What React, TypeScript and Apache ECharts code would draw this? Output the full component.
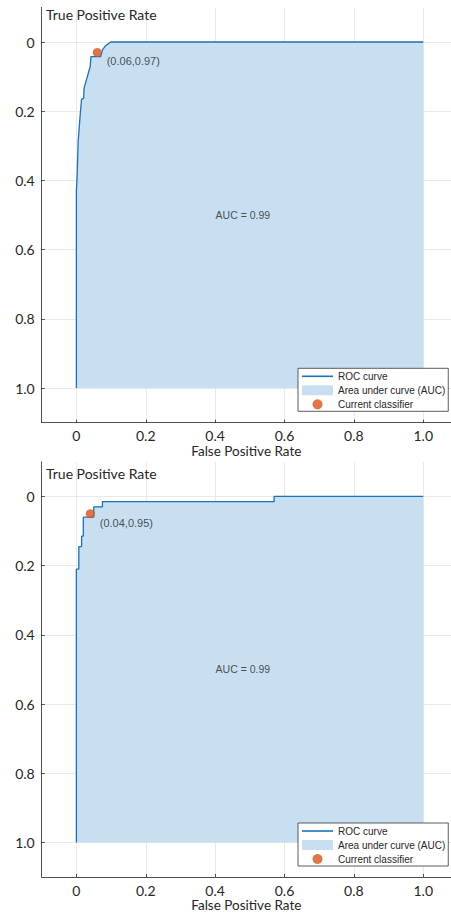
import React, { useEffect, useRef } from 'react';
import * as echarts from 'echarts';

// ROC curve points [FPR, TPR]
const rocTop: [number, number][] = [
  [0, 0], [0, 0.57], [0.002, 0.61], [0.005, 0.71], [0.011, 0.79], [0.015, 0.835],
  [0.021, 0.837], [0.022, 0.866], [0.04, 0.93], [0.042, 0.958], [0.07, 0.958],
  [0.075, 0.977], [0.085, 0.99], [0.099, 1], [1, 1],
];
const rocBottom: [number, number][] = [
  [0, 0], [0, 0.79], [0.007, 0.79], [0.007, 0.855], [0.015, 0.855], [0.015, 0.885],
  [0.02, 0.885], [0.02, 0.94], [0.05, 0.94], [0.05, 0.97], [0.075, 0.97],
  [0.075, 0.985], [0.57, 0.985], [0.57, 1], [1, 1],
];
const classifierTop: [number, number] = [0.06, 0.97];
const classifierBottom: [number, number] = [0.04, 0.95];
const aucTexts = ['AUC = 0.99', 'AUC = 0.99'];
const aucPos: [number, number] = [0.48, 0.5];

const xTicks = [0, 0.2, 0.4, 0.6, 0.8, 1.0];
const xTickLabels = ['0', '0.2', '0.4', '0.6', '0.8', '1.0'];
const yTicks = [0, 0.2, 0.4, 0.6, 0.8, 1.0];
const yTickLabels = ['1.0', '0.8', '0.6', '0.4', '0.2', '0'];

const seriesNames = ['ROC curve', 'Area under curve (AUC)', 'Current classifier'];
const xName = 'False Positive Rate';
const yName = 'True Positive Rate';

const AXIS = '#262626';
const GRID = '#e3e3e3';
const LINE = '#1a72b8';
const FILL = '#c7dff1';
const DOT = '#d95319';
const FONT = 'Lato';
const SMALL = '"Liberation Sans", Arial, sans-serif';

const pick = (ticks: number[], labels: string[]) => (v: number) => {
  const i = ticks.findIndex((t) => Math.abs(t - v) < 1e-6);
  return i >= 0 ? labels[i] : '';
};

export default function App() {
  const ref = useRef<HTMLDivElement>(null);
  useEffect(() => {
    document.body.style.margin = '0';
    if (!ref.current) return;
    const chart = echarts.init(ref.current, undefined, { renderer: 'svg' });

    const grids = [
      { left: 41.7, top: 7.4, right: 0, height: 415.2 },
      { left: 41.7, top: 461.8, right: 0, height: 416 },
    ];
    const xAxis = grids.map((_, i) => ({
      type: 'value',
      gridIndex: i,
      min: -0.1,
      max: 1.08,
      name: xName,
      nameLocation: 'middle',
      nameGap: 21,
      nameTextStyle: { fontFamily: FONT, fontSize: 13.5, color: AXIS },
      axisLine: { show: true, onZero: false, lineStyle: { color: AXIS, width: 0.8 } },
      axisTick: { show: true, inside: true, length: 3, customValues: xTicks, lineStyle: { color: AXIS, width: 0.8 } },
      axisLabel: { customValues: xTicks, formatter: pick(xTicks, xTickLabels), margin: 6, fontFamily: FONT, fontSize: 14, color: AXIS },
      splitLine: { show: true, lineStyle: { color: GRID, width: 0.8 } },
    }));
    const yAxis = grids.map((_, i) => ({
      type: 'value',
      gridIndex: i,
      min: -0.1,
      max: 1.1,
      axisLine: { show: true, onZero: false, lineStyle: { color: AXIS, width: 0.8 } },
      axisTick: { show: true, inside: true, length: 3, customValues: yTicks, lineStyle: { color: AXIS, width: 0.8 } },
      axisLabel: { customValues: yTicks, formatter: pick(yTicks, yTickLabels), margin: 7, fontFamily: FONT, fontSize: 14, color: AXIS },
      splitLine: { show: true, lineStyle: { color: GRID, width: 0.8 } },
    }));

    const rocs = [rocTop, rocBottom];
    const dots = [classifierTop, classifierBottom];
    const series: any[] = [];
    rocs.forEach((roc, i) => {
      series.push({
        type: 'line',
        name: seriesNames[1],
        xAxisIndex: i,
        yAxisIndex: i,
        data: roc,
        symbol: 'none',
        color: FILL,
        itemStyle: { color: FILL },
        lineStyle: { width: 0, opacity: 0 },
        areaStyle: { color: FILL, opacity: 1 },
        z: 2,
      });
      series.push({
        type: 'line',
        name: seriesNames[0],
        xAxisIndex: i,
        yAxisIndex: i,
        data: roc,
        symbol: 'none',
        color: LINE,
        itemStyle: { color: LINE },
        lineStyle: { color: LINE, width: 1.3 },
        z: 3,
      });
      series.push({
        type: 'scatter',
        name: seriesNames[2],
        xAxisIndex: i,
        yAxisIndex: i,
        data: [dots[i]],
        symbol: 'circle',
        symbolSize: 9,
        color: DOT,
        itemStyle: { color: DOT },
        label: {
          show: true,
          position: 'right',
          distance: 5,
          offset: [0, 9],
          formatter: `(${dots[i][0].toFixed(2)},${dots[i][1].toFixed(2)})`,
          fontFamily: SMALL,
          fontSize: 11,
          color: AXIS,
        },
        z: 4,
      });
      series.push({
        type: 'scatter',
        name: 'auc-text-' + i,
        xAxisIndex: i,
        yAxisIndex: i,
        data: [aucPos],
        symbolSize: 0,
        silent: true,
        label: {
          show: true,
          position: 'inside',
          formatter: aucTexts[i],
          fontFamily: SMALL,
          fontSize: 10.5,
          color: AXIS,
        },
        z: 5,
      });
    });

    const legendTops = [368.3, 823];
    const legend = legendTops.map((top) => ({
      orient: 'vertical',
      left: 298,
      top,
      data: [
        { name: seriesNames[0], icon: 'path://M0 0H31V1.6H0Z' },
        { name: seriesNames[1], icon: 'rect' },
        { name: seriesNames[2], icon: 'circle' },
      ],
      itemWidth: 31,
      itemHeight: 10,
      itemGap: 4,
      itemTextGap: 4,
      itemStyle: { borderWidth: 0 },
      padding: [3, 3, 2, 4],
      borderColor: '#333333',
      borderWidth: 0.8,
      borderRadius: 0,
      backgroundColor: '#ffffff',
      selectedMode: false,
      textStyle: { fontFamily: SMALL, fontSize: 10, color: AXIS },
    }));

    chart.setOption({
      animation: false,
      backgroundColor: '#ffffff',
      title: [
        { text: yName, left: 46, top: 7, padding: 0, textStyle: { fontFamily: FONT, fontSize: 14, fontWeight: 'normal', color: AXIS } },
        { text: yName, left: 46, top: 466, padding: 0, textStyle: { fontFamily: FONT, fontSize: 14, fontWeight: 'normal', color: AXIS } },
      ],
      grid: grids,
      xAxis,
      yAxis,
      legend,
      series,
    });
    return () => chart.dispose();
  }, []);
  return <div ref={ref} style={{ width: 451, height: 913 }} />;
}
